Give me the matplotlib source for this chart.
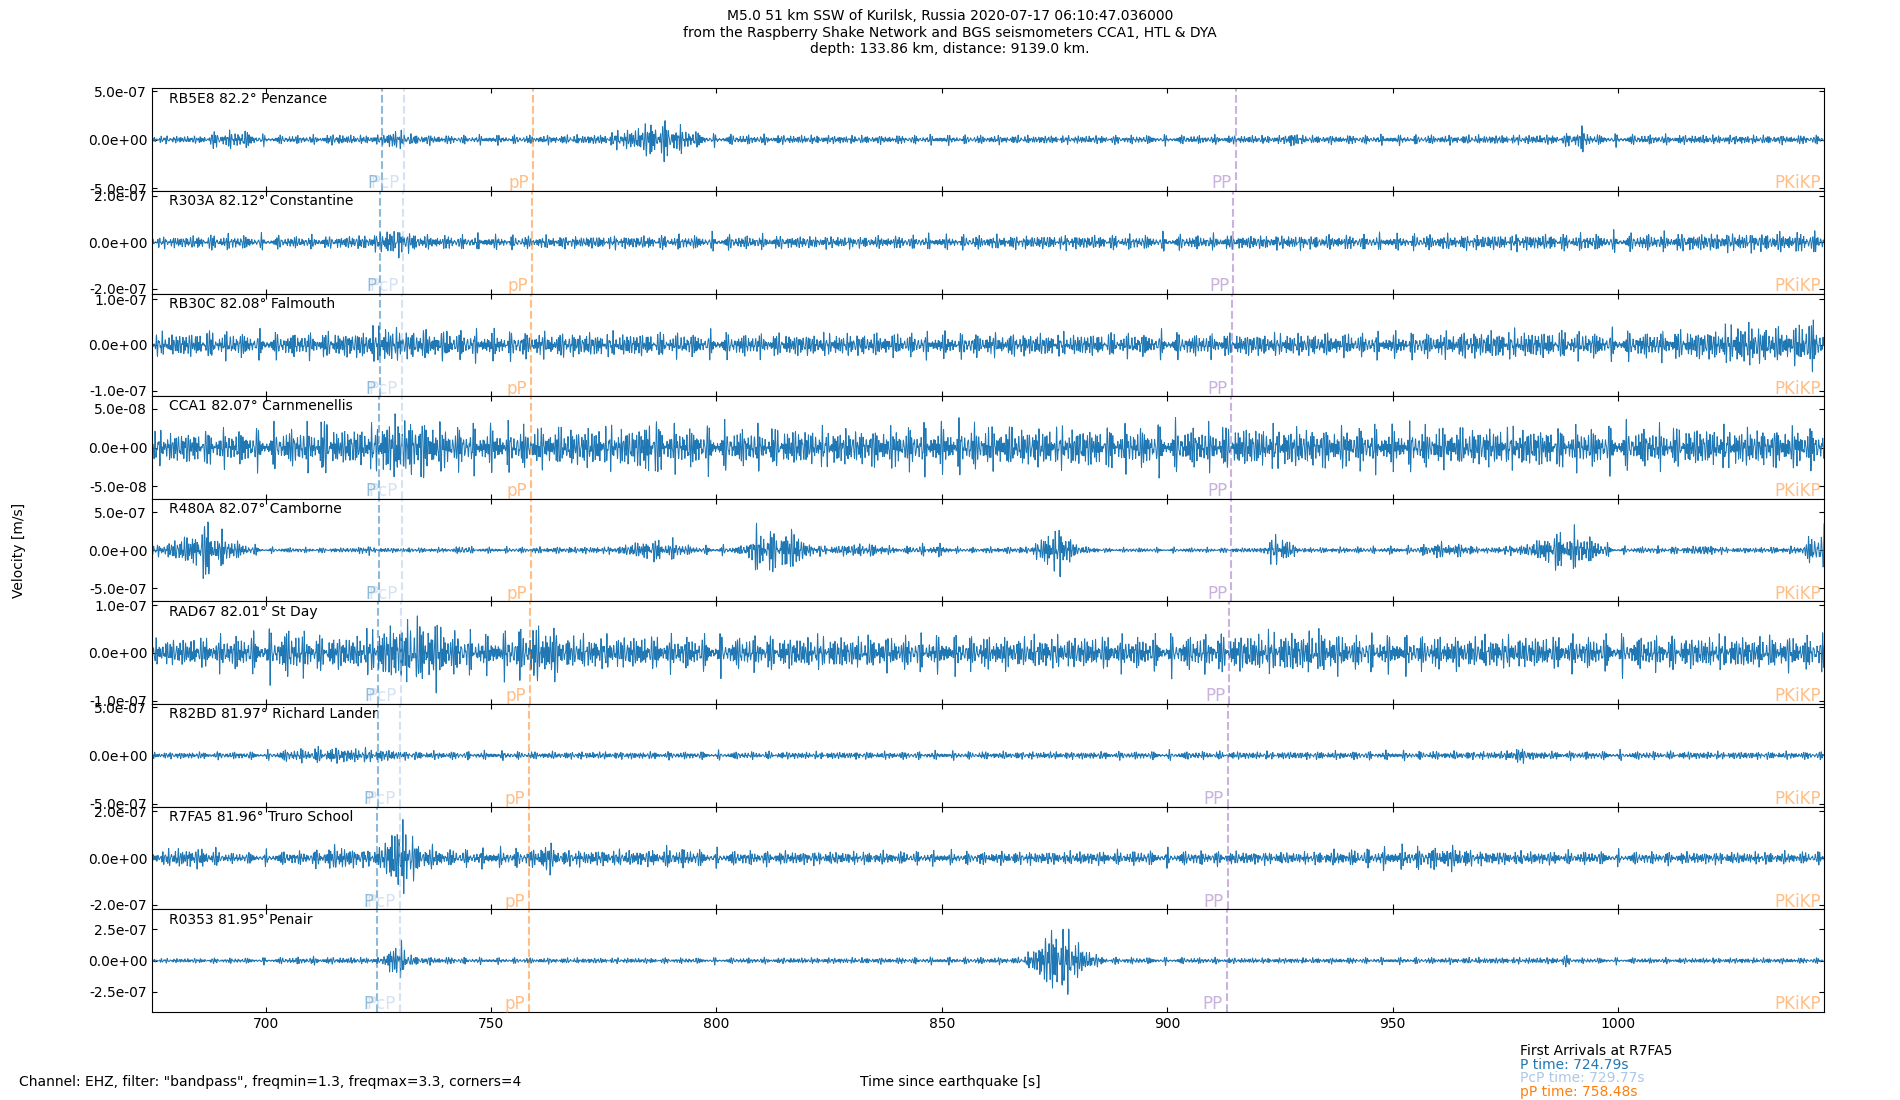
import numpy as np
import matplotlib
matplotlib.use("Agg")
import matplotlib.pyplot as plt
from matplotlib.ticker import FormatStrFormatter, FixedLocator
import matplotlib.transforms as mtransforms

plt.rcParams['font.family'] = ['DejaVu Sans']
plt.rcParams['font.size'] = 10

# ---------------- data ----------------
stations = ["RB5E8", "R303A", "RB30C", "CCA1", "R480A", "RAD67", "R82BD", "R7FA5", "R0353"]
distances = ["82.2", "82.12", "82.08", "82.07", "82.07", "82.01", "81.97", "81.96", "81.95"]
places = ["Penzance", "Constantine", "Falmouth", "Carnmenellis", "Camborne",
          "St Day", "Richard Lander", "Truro School", "Penair"]

# arrival times [s] per station
p_times = [725.80, 725.46, 725.29, 725.25, 725.25, 725.00, 724.83, 724.79, 724.75]
pcp_times = [730.71, 730.39, 730.24, 730.20, 730.20, 729.97, 729.81, 729.77, 729.73]
pp_depth_times = [759.42, 759.10, 758.95, 758.91, 758.91, 758.68, 758.52, 758.48, 758.44]
PP_times = [915.30, 914.66, 914.34, 914.26, 914.26, 913.78, 913.46, 913.38, 913.30]
pkikp_times = [1046.0, 1046.0, 1046.0, 1046.0, 1046.0, 1046.0, 1046.0, 1046.0, 1046.0]

# y-axis limits and tick values [m/s]
ylims = [5.3e-07, 2.2e-07, 1.12e-07, 6.6e-08, 6.75e-07, 1.075e-07, 5.3e-07, 2.2e-07, 4.1e-07]
yticks = [5e-07, 2e-07, 1e-07, 5e-08, 5e-07, 1e-07, 5e-07, 2e-07, 2.5e-07]

# trace envelope (time [s], peak amplitude [1e-7 m/s])
env_RB5E8 = [(675, 0.45), (686, 0.45), (689, 1.0), (695, 1.1), (700, 0.5), (712, 0.5), (716, 0.7),
             (720, 0.5), (726, 0.6), (729, 1.5), (731, 0.7), (740, 0.5), (760, 0.5), (775, 0.6),
             (778, 1.1), (782, 1.4), (786, 2.4), (790, 2.1), (794, 1.2), (798, 0.6), (830, 0.5),
             (860, 0.5), (926, 0.5), (928, 1.1), (930, 0.5), (975, 0.55), (988, 0.6), (992, 1.5),
             (994, 0.6), (1047, 0.5)]
env_R303A = [(675, 0.25), (690, 0.38), (700, 0.3), (715, 0.3), (724, 0.4), (728, 0.75), (731, 0.6),
             (735, 0.35), (760, 0.3), (800, 0.35), (830, 0.3), (880, 0.35), (950, 0.35), (980, 0.4),
             (1000, 0.4), (1020, 0.45), (1047, 0.5)]
env_RB30C = [(675, 0.3), (690, 0.35), (700, 0.3), (720, 0.35), (727, 0.55), (730, 0.4), (760, 0.33),
             (800, 0.3), (850, 0.3), (900, 0.3), (950, 0.3), (975, 0.38), (1000, 0.33), (1020, 0.4),
             (1028, 0.6), (1035, 0.45), (1040, 0.5), (1042, 0.9), (1044, 0.5), (1047, 0.4)]
env_CCA1 = [(675, 0.24), (700, 0.27), (710, 0.32), (713, 0.42), (716, 0.28), (724, 0.32), (728, 0.5),
            (735, 0.45), (740, 0.32), (760, 0.3), (783, 0.32), (785, 0.52), (788, 0.32), (800, 0.3),
            (830, 0.28), (852, 0.34), (870, 0.3), (900, 0.32), (950, 0.3), (1000, 0.3), (1047, 0.3)]
env_R480A = [(675, 0.7), (680, 1.7), (685, 3.2), (687, 5.0), (690, 2.7), (695, 1.1), (700, 0.4),
             (720, 0.4), (722, 1.0), (724, 0.4), (742, 0.4), (744, 1.0), (746, 0.4), (778, 0.6),
             (785, 1.8), (790, 1.6), (795, 0.6), (806, 0.7), (810, 4.4), (813, 3.0), (817, 3.6),
             (820, 1.2), (825, 0.6), (830, 1.1), (836, 1.0), (840, 0.4), (846, 0.9), (850, 0.9),
             (854, 0.4), (870, 0.6), (873, 3.0), (877, 3.8), (880, 0.8), (885, 0.35), (921, 0.4),
             (924, 2.6), (927, 1.8), (929, 0.4), (955, 0.6), (960, 1.3), (966, 1.0), (970, 0.4),
             (980, 1.0), (986, 3.0), (990, 3.2), (995, 1.8), (999, 0.5), (1015, 0.6), (1020, 0.9),
             (1025, 0.4), (1040, 0.6), (1044, 3.0), (1047, 3.5)]
env_RAD67 = [(675, 0.32), (690, 0.4), (700, 0.48), (705, 0.6), (712, 0.42), (720, 0.42), (726, 0.65),
             (730, 0.8), (737, 0.85), (742, 0.5), (750, 0.42), (763, 0.75), (766, 0.42), (800, 0.4),
             (850, 0.4), (900, 0.4), (935, 0.55), (940, 0.4), (1000, 0.4), (1047, 0.4)]
env_R82BD = [(675, 0.4), (700, 0.45), (705, 0.75), (715, 1.0), (722, 0.85), (728, 0.7), (732, 0.5),
             (760, 0.45), (850, 0.45), (975, 0.5), (978, 1.1), (981, 0.5), (1047, 0.45)]
env_R7FA5 = [(675, 0.25), (680, 0.5), (687, 0.5), (692, 0.25), (710, 0.35), (716, 0.65), (722, 0.4),
             (726, 0.6), (729, 2.0), (731, 1.7), (734, 0.7), (740, 0.4), (750, 0.4), (760, 0.45),
             (762, 0.9), (765, 0.4), (785, 0.4), (790, 0.5), (800, 0.35), (850, 0.3), (900, 0.35),
             (930, 0.3), (965, 0.6), (968, 0.35), (1000, 0.3), (1047, 0.3)]
env_R0353 = [(675, 0.2), (700, 0.25), (710, 0.35), (715, 0.3), (726, 0.3), (728, 1.6), (730, 1.8),
             (732, 0.5), (736, 0.35), (750, 0.25), (800, 0.25), (868, 0.3), (872, 1.8), (875, 3.4),
             (878, 2.8), (882, 1.0), (886, 0.3), (920, 0.25), (986, 0.3), (988, 0.55), (990, 0.25),
             (1047, 0.25)]
envelopes = [env_RB5E8, env_R303A, env_RB30C, env_CCA1, env_R480A, env_RAD67, env_R82BD, env_R7FA5, env_R0353]

# bandpass passband frequencies used for the carrier [Hz]
band_freqs = [1.33, 1.52, 1.79, 2.04, 2.31, 2.58, 2.87, 3.23]

first_p = 724.79
first_pcp = 729.77
first_pp = 758.48

# ---------------- figure ----------------
fig, axs = plt.subplots(9, 1, sharex=True, figsize=(19, 11), dpi=100)
fig.subplots_adjust(left=0.08, right=0.96, top=0.9197, bottom=0.08, hspace=0)

xmin = first_p - 50
xmax = 1045.7

c_P = (0.1216, 0.4667, 0.7059, 0.5)
c_PcP = (0.6824, 0.7804, 0.9098, 0.5)
c_pP = (1.0, 0.498, 0.0549, 0.5)
c_PP = (0.5804, 0.4039, 0.7412, 0.5)
c_PKiKP = (1.0, 0.498, 0.0549, 0.5)

t = np.arange(670.0, 1050.0, 0.05)
for k, ax in enumerate(axs):
    carrier = np.zeros_like(t)
    for j, f in enumerate(band_freqs):
        carrier += np.sin(2 * np.pi * f * t + ((k + 1) * (j + 2) * 0.77) % (2 * np.pi))
    carrier /= np.percentile(np.abs(carrier), 99.3)
    et = [e[0] for e in envelopes[k]]
    ea = [e[1] * 1e-7 for e in envelopes[k]]
    env = np.interp(t, et, ea)
    ax.plot(t, carrier * env, color='#1f77b4', lw=0.7)

    ax.set_ylim(-ylims[k], ylims[k])
    ax.yaxis.set_major_locator(FixedLocator([-yticks[k], 0, yticks[k]]))
    ax.yaxis.set_major_formatter(FormatStrFormatter('%.1e'))
    ax.tick_params(direction='in', top=True, right=True, labelsize=10)

    trans = mtransforms.blended_transform_factory(ax.transData, ax.transAxes)
    phases = [(p_times[k], 'P', c_P), (pcp_times[k], 'PcP', c_PcP), (pp_depth_times[k], 'pP', c_pP),
              (PP_times[k], 'PP', c_PP), (pkikp_times[k], 'PKiKP', c_PKiKP)]
    for tt, lab, col in phases:
        ax.axvline(tt, color=col, ls='--', lw=1.5)
        ax.annotate(lab, xy=(tt, 0.0), xycoords=trans, xytext=(-3.0, -1.0), textcoords='offset points',
                    ha='right', va='bottom', color=col, fontsize=12, annotation_clip=False)

    ax.text(0.01, 0.9, f"{stations[k]} {distances[k]}° {places[k]}", transform=ax.transAxes,
            ha='left', va='center', fontsize=10)

axs[-1].set_xlim(xmin, xmax)
axs[-1].set_xticks([700, 750, 800, 850, 900, 950, 1000])

fig.suptitle("M5.0 51 km SSW of Kurilsk, Russia 2020-07-17 06:10:47.036000\n"
             "from the Raspberry Shake Network and BGS seismometers CCA1, HTL & DYA\n"
             "depth: 133.86 km, distance: 9139.0 km.", fontsize=10, y=0.9915, va='top')
fig.text(0.01, 0.5, "Velocity [m/s]", rotation=90, ha='center', va='center', fontsize=10)
fig.text(0.5, 1 - 1082 / 1100, "Time since earthquake [s]", ha='center', va='center', fontsize=10)
fig.text(0.01, 1 - 1082 / 1100, 'Channel: EHZ, filter: "bandpass", freqmin=1.3, freqmax=3.3, corners=4',
         ha='left', va='center', fontsize=10)
fig.text(0.8, 1 - 1051 / 1100, "First Arrivals at R7FA5", ha='left', va='center', fontsize=10)
fig.text(0.8, 1 - 1065 / 1100, f"P time: {first_p:.2f}s", ha='left', va='center', fontsize=10, color='#1f77b4')
fig.text(0.8, 1 - 1078 / 1100, f"PcP time: {first_pcp:.2f}s", ha='left', va='center', fontsize=10, color='#aec7e8')
fig.text(0.8, 1 - 1092 / 1100, f"pP time: {first_pp:.2f}s", ha='left', va='center', fontsize=10, color='#ff7f0e')

fig.savefig("out.png", dpi=100)
